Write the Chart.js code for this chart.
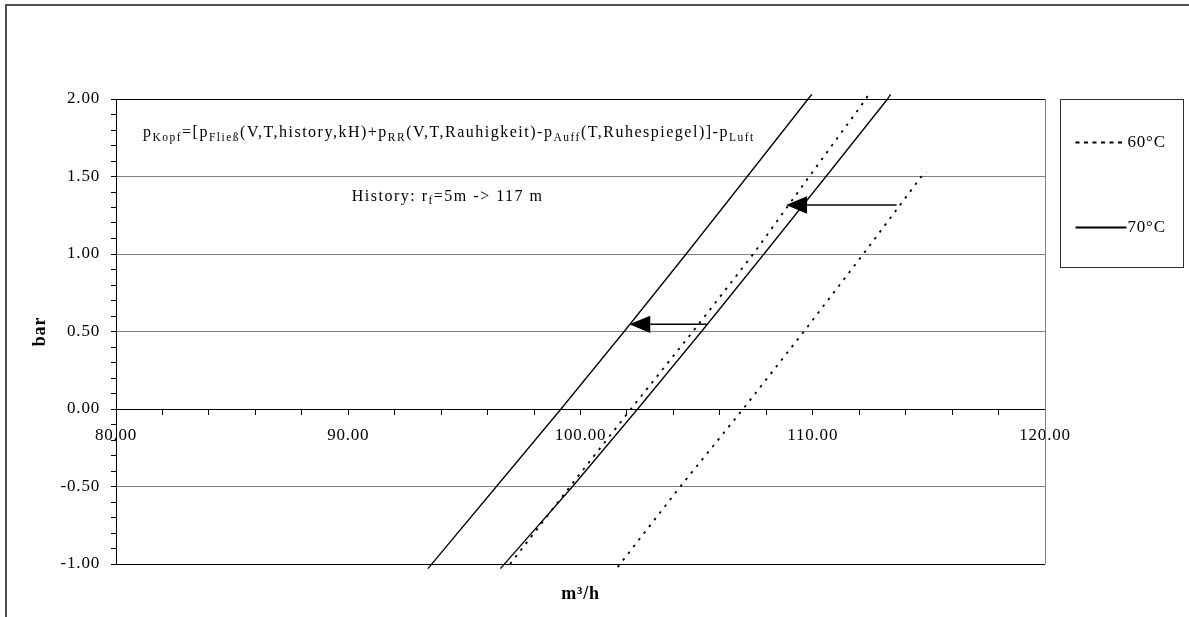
<!DOCTYPE html>
<html><head><meta charset="utf-8">
<script src="https://cdn.jsdelivr.net/npm/chart.js@4.4.1/dist/chart.umd.min.js"></script>
<style>html,body{margin:0;padding:0;background:#fff;}#wrap{width:1189px;height:617px;}</style>
</head><body><div id="wrap"><canvas id="c" width="1189" height="617"></canvas></div>
<script>
// ---------- data ----------
const legendLabels = ['60°C', '70°C'];
// 70°C, after history (left solid)
const yA = [-1.03, -0.5, 0, 0.5, 1, 1.5, 2, 2.03];
const xA = [93.43, 96.38, 99.16, 101.88, 104.55, 107.18, 109.8, 109.96];
// 70°C, before (right solid)
const yB = [-1.03, -0.5, 0, 0.5, 1, 1.5, 2, 2.03];
const xB = [96.55, 99.66, 102.46, 105.21, 107.9, 110.57, 113.22, 113.35];
// 60°C, after history (left dotted)
const yC = [-1, -0.5, 0, 0.5, 1, 1.5, 2, 2.03];
const xC = [96.97, 99.55, 102.17, 104.84, 107.44, 109.85, 112.29, 112.4];
// 60°C, before (right dotted)
const yD = [-1.02, -0.5, 0, 0.5, 1, 1.5, 1.53];
const xD = [101.6, 104.3, 107.0, 109.62, 112.18, 114.68, 114.9];
// arrows (data coords)
const arrowY = [1.316, 0.546];
const arrowFromX = [113.61, 105.43];
const arrowToX = [108.85, 102.1];
// annotations
const formulaParts = [['p',0],['Kopf',1],['=[p',0],['Fließ',1],['(V,T,history,kH)+p',0],['RR',1],['(V,T,Rauhigkeit)-p',0],['Auff',1],['(T,Ruhespiegel)]-p',0],['Luft',1]];
const formulaPos = [81.16, 1.753];
const historyParts = [['History: r',0],['f',1],['=5m -> 117 m',0]];
const historyPos = [90.15, 1.345];
const xTitle = 'm³/h';
const yTitle = 'bar';

// ---------- styling ----------
const FONT = "'Liberation Serif','Times New Roman',Times,serif";
const LS = '0.8px';
const LS_NOTE = '1.5px';
function setLS(chart){ try { chart.ctx.letterSpacing = LS; } catch(e){} }
const pts = (xs, ys) => xs.map((x, i) => ({x, y: ys[i]}));
const isMajor = (v, step) => Math.abs(v/step - Math.round(v/step)) < 1e-6;

const DOT = [2.5, 6];

function drawRich(ctx, parts, x, y, size, subSize){
  ctx.textAlign = 'left'; ctx.textBaseline = 'alphabetic'; ctx.fillStyle = '#000';
  try { ctx.letterSpacing = LS_NOTE; } catch(e){}
  for (const [t, sub] of parts){
    ctx.font = (sub ? subSize : size) + 'px ' + FONT;
    ctx.fillText(t, x, y + (sub ? 3.5 : 0));
    x += ctx.measureText(t).width;
  }
}

const framePlugin = {
  id: 'frame',
  beforeUpdate: setLS,
  beforeLayout: setLS,
  beforeDraw(chart){
    const c = chart.ctx; setLS(chart);
    c.save(); c.fillStyle = '#fff'; c.fillRect(0,0,chart.width,chart.height);
    c.strokeStyle = '#505050'; c.lineWidth = 2;
    c.beginPath(); c.moveTo(6, chart.height); c.lineTo(6, 5); c.lineTo(chart.width, 5); c.stroke();
    c.restore();
  },
  beforeDatasetsDraw(chart){
    const {ctx, chartArea: a} = chart;
    ctx.save(); ctx.strokeStyle = '#808080'; ctx.lineWidth = 1;
    ctx.beginPath(); ctx.moveTo(Math.round(a.right)+0.5, a.top); ctx.lineTo(Math.round(a.right)+0.5, a.bottom); ctx.stroke();
    ctx.restore();
  },
  afterDatasetsDraw(chart){
    const {ctx} = chart, xs = chart.scales.x, ys = chart.scales.y;
    ctx.save(); ctx.strokeStyle = '#000'; ctx.fillStyle = '#000'; ctx.lineWidth = 1.5;
    for (let i = 0; i < arrowY.length; i++){
      const x1 = xs.getPixelForValue(arrowFromX[i]), x2 = xs.getPixelForValue(arrowToX[i]);
      const y = ys.getPixelForValue(arrowY[i]);
      const dir = Math.sign(x2 - x1), L = 21, W = 8.7;
      ctx.beginPath(); ctx.moveTo(x1, y); ctx.lineTo(x2 - dir*L, y); ctx.stroke();
      ctx.beginPath(); ctx.moveTo(x2, y); ctx.lineTo(x2 - dir*L, y - W); ctx.lineTo(x2 - dir*L, y + W); ctx.closePath(); ctx.fill();
    }
    ctx.restore();
  },
  afterDraw(chart){
    const {ctx, chartArea: a} = chart, xs = chart.scales.x, ys = chart.scales.y;
    ctx.save();
    drawRich(ctx, formulaParts, xs.getPixelForValue(formulaPos[0]), ys.getPixelForValue(formulaPos[1]), 16, 11.5);
    drawRich(ctx, historyParts, xs.getPixelForValue(historyPos[0]), ys.getPixelForValue(historyPos[1]), 16, 11.5);
    setLS(chart);
    // legend
    const bx = Math.round(a.right) + 15.5, by = Math.round(a.top) + 0.5, bw = 123, bh = 168;
    ctx.strokeStyle = '#303030'; ctx.lineWidth = 1; ctx.strokeRect(bx, by, bw, bh);
    const dsFor = legendLabels.map(l => chart.data.datasets.find(d => d.label === l));
    legendLabels.forEach((lab, i) => {
      const y = Math.round(by + 42 + i*85) + 0.5;
      const ds = dsFor[i];
      ctx.save();
      ctx.strokeStyle = ds.borderColor; ctx.lineWidth = 2;
      ctx.setLineDash(ds.borderDash && ds.borderDash.length ? [4, 4.5] : []);
      ctx.beginPath(); ctx.moveTo(bx + 15, y); ctx.lineTo(bx + 66, y); ctx.stroke();
      ctx.restore();
      ctx.font = '17px ' + FONT; ctx.fillStyle = '#000'; ctx.textAlign = 'left'; ctx.textBaseline = 'middle';
      ctx.fillText(lab, bx + 67, y);
    });
    ctx.restore();
  }
};

const tickFont = {family: FONT, size: 17};

new Chart(document.getElementById('c'), {
  type: 'scatter',
  data: {
    datasets: [
      {label: '60°C', data: pts(xC, yC), showLine: true, borderColor: '#000', borderWidth: 1.8, borderDash: DOT, pointRadius: 0, clip: false},
      {label: '60°C', data: pts(xD, yD), showLine: true, borderColor: '#000', borderWidth: 1.8, borderDash: DOT, pointRadius: 0, clip: false},
      {label: '70°C', data: pts(xA, yA), showLine: true, borderColor: '#000', borderWidth: 1.3, pointRadius: 0, clip: false},
      {label: '70°C', data: pts(xB, yB), showLine: true, borderColor: '#000', borderWidth: 1.3, pointRadius: 0, clip: false}
    ]
  },
  options: {
    responsive: false, animation: false,
    layout: {padding: {top: 99, right: 144, bottom: 0, left: 0}},
    plugins: {legend: {display: false}, tooltip: {enabled: false}, title: {display: false}},
    scales: {
      x: {
        type: 'linear', min: 80, max: 120, position: {y: 0},
        ticks: {stepSize: 2, autoSkip: false, maxRotation: 0, padding: 11, color: '#000', font: tickFont,
          callback: v => isMajor(v, 10) ? v.toFixed(2) : ''},
        grid: {drawOnChartArea: false, drawTicks: true, tickLength: 5, tickColor: '#000', color: '#000'},
        border: {display: true, color: '#000', width: 1}
      },
      xt: {
        type: 'linear', position: 'bottom', min: 80, max: 120,
        afterFit: s => { s.height = 53; },
        ticks: {display: false}, grid: {display: false, drawTicks: false}, border: {display: false},
        title: {display: true, text: xTitle, color: '#000', font: {family: FONT, size: 18, weight: 'bold'}, padding: {top: 0, bottom: 12}}
      },
      y: {
        type: 'linear', min: -1, max: 2,
        afterFit: s => { s.width = 116; },
        ticks: {stepSize: 0.1, autoSkip: false, padding: 11, color: '#000', font: tickFont,
          callback: v => isMajor(v, 0.5) ? v.toFixed(2) : ''},
        grid: {
          color: c => { const v = c.tick.value; if (Math.abs(v-2)<1e-6 || Math.abs(v+1)<1e-6) return '#000'; if (Math.abs(v) < 1e-6) return 'rgba(0,0,0,0)'; return isMajor(v, 0.5) ? '#808080' : 'rgba(0,0,0,0)'; },
          tickColor: '#000', tickLength: 5, drawTicks: true, lineWidth: 1
        },
        border: {display: true, color: '#000', width: 1},
        title: {display: true, text: yTitle, color: '#000', font: {family: FONT, size: 18, weight: 'bold'}, padding: {top: 30, bottom: 0}}
      }
    }
  },
  plugins: [framePlugin]
});
</script>
</body></html>
